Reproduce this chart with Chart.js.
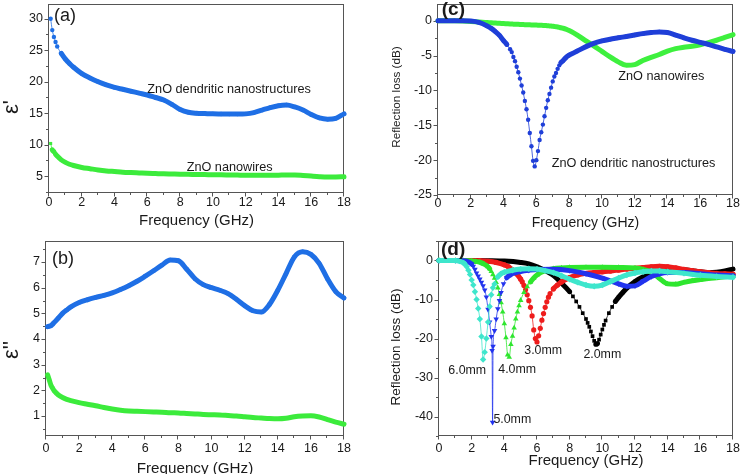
<!DOCTYPE html>
<html><head><meta charset="utf-8">
<script src="https://cdn.jsdelivr.net/npm/chart.js@4.4.1/dist/chart.umd.min.js"></script>
<style>
html,body{margin:0;padding:0;background:#fff;}
#wrap{position:relative;width:740px;height:474px;overflow:hidden;background:#fff;}
canvas{position:absolute;}
</style></head><body>
<div id="wrap">
<canvas id="ca" width="370" height="237" style="left:0;top:0"></canvas>
<canvas id="cb" width="370" height="237" style="left:0;top:237px"></canvas>
<canvas id="cc" width="370" height="237" style="left:370px;top:0"></canvas>
<canvas id="cd" width="370" height="237" style="left:370px;top:237px"></canvas>
</div>
<script>
// ---------- tick labels ----------
const xTicks = [0, 2, 4, 6, 8, 10, 12, 14, 16, 18];
const yTicksA = [5, 10, 15, 20, 25, 30];
const yTicksB = [1, 2, 3, 4, 5, 6, 7];
const yTicksC = [-25, -20, -15, -10, -5, 0];
const yTicksD = [-40, -30, -20, -10, 0];

// ---------- panel (a) and (b): permittivity ----------
const freqAB = [0.1, 0.2, 0.3, 0.4, 0.5, 0.75, 1, 1.25, 1.5, 2, 2.5, 3, 3.5, 4, 4.5, 5, 5.5, 6, 6.5, 7, 7.5, 8, 8.5, 9, 9.5, 10, 10.5, 11, 11.5, 12, 12.5, 13, 13.5, 14, 14.5, 15, 15.5, 16, 16.5, 17, 17.5, 18];
const epsRealDendritic = [30.0, 28.2, 27.1, 26.3, 25.6, 24.5, 23.6, 22.9, 22.3, 21.3, 20.6, 20.0, 19.5, 19.1, 18.8, 18.5, 18.2, 17.9, 17.5, 17.1, 16.4, 15.6, 15.15, 15.0, 14.95, 14.9, 14.88, 14.86, 14.86, 14.9, 15.1, 15.5, 15.9, 16.2, 16.3, 16.0, 15.5, 14.8, 14.25, 14.05, 14.2, 14.9];
const epsRealWires = [10.2, 9.2, 8.9, 8.5, 8.2, 7.6, 7.2, 6.9, 6.7, 6.4, 6.2, 6.0, 5.85, 5.75, 5.65, 5.58, 5.52, 5.46, 5.42, 5.38, 5.35, 5.32, 5.3, 5.28, 5.26, 5.25, 5.22, 5.2, 5.18, 5.16, 5.15, 5.14, 5.15, 5.17, 5.2, 5.2, 5.12, 5.02, 4.93, 4.88, 4.88, 4.92];
const epsImagDendritic = [4.48, 4.5, 4.52, 4.58, 4.65, 4.82, 5.0, 5.13, 5.25, 5.42, 5.53, 5.62, 5.7, 5.8, 5.93, 6.08, 6.25, 6.45, 6.66, 6.88, 7.08, 7.05, 6.72, 6.35, 6.12, 6.0, 5.9, 5.77, 5.55, 5.3, 5.1, 5.05, 5.35, 5.9, 6.55, 7.2, 7.4, 7.3, 6.95, 6.35, 5.85, 5.6];
const epsImagWires = [2.6, 2.4, 2.2, 2.08, 1.98, 1.82, 1.72, 1.65, 1.6, 1.52, 1.46, 1.4, 1.33, 1.27, 1.22, 1.19, 1.18, 1.17, 1.16, 1.15, 1.13, 1.12, 1.1, 1.08, 1.06, 1.05, 1.04, 1.02, 1.0, 0.97, 0.94, 0.92, 0.9, 0.89, 0.91, 0.97, 1.0, 1.01, 0.96, 0.86, 0.76, 0.68];

// ---------- panel (c): reflection loss, two samples ----------
const freqC = [0, 0.5, 1, 1.5, 2, 2.5, 3, 3.25, 3.5, 3.75, 4, 4.2, 4.4, 4.5, 4.6, 4.7, 4.8, 4.9, 5.0, 5.1, 5.2, 5.3, 5.4, 5.5, 5.6, 5.7, 5.8, 5.9, 6.0, 6.1, 6.2, 6.3, 6.4, 6.5, 6.6, 6.7, 6.8, 6.9, 7.0, 7.1, 7.2, 7.3, 7.4, 7.5, 7.6, 7.8, 8.0, 8.25, 8.5, 9, 9.5, 10, 10.5, 11, 11.5, 12, 12.5, 13, 13.5, 14, 14.5, 15, 15.5, 16, 16.5, 17, 17.5, 18];
const rlDendritic = [0, 0, 0, 0, -0.05, -0.25, -0.75, -1.1, -1.55, -2.1, -2.85, -3.4, -4.1, -4.5, -5.2, -5.8, -6.6, -7.4, -8.3, -9.3, -10.3, -11.5, -12.7, -14.2, -16.1, -18.0, -20.1, -20.9, -20.0, -18.7, -17.1, -16.0, -14.9, -13.7, -12.5, -11.4, -10.5, -9.6, -8.7, -8.0, -7.5, -6.9, -6.4, -6.0, -5.8, -5.3, -4.95, -4.65, -4.35, -3.75, -3.25, -2.9, -2.65, -2.45, -2.25, -2.05, -1.85, -1.7, -1.6, -1.7, -2.05, -2.45, -2.8, -3.1, -3.4, -3.75, -4.1, -4.4];
const rlWires = [0, 0, -0.02, -0.05, -0.1, -0.18, -0.25, -0.3, -0.33, -0.37, -0.4, -0.43, -0.46, -0.47, -0.49, -0.5, -0.51, -0.52, -0.53, -0.54, -0.55, -0.56, -0.57, -0.58, -0.59, -0.6, -0.61, -0.62, -0.63, -0.64, -0.65, -0.66, -0.67, -0.68, -0.7, -0.72, -0.74, -0.76, -0.79, -0.82, -0.86, -0.9, -0.95, -1.0, -1.06, -1.2, -1.4, -1.7, -2.05, -2.85, -3.6, -4.4, -5.2, -5.9, -6.4, -6.3, -5.7, -5.25, -4.85, -4.35, -4.0, -3.8, -3.65, -3.45, -3.15, -2.8, -2.4, -2.0];

// ---------- panel (d): reflection loss vs thickness ----------
const f2mm = [0, 1, 2, 3, 4, 5, 5.5, 6, 6.5, 7, 7.5, 8, 8.2, 8.4, 8.6, 8.8, 9.0, 9.1, 9.2, 9.3, 9.4, 9.5, 9.6, 9.7, 9.8, 9.9, 10.0, 10.1, 10.2, 10.4, 10.6, 10.8, 11, 11.25, 11.5, 12, 12.5, 13, 13.5, 14, 14.5, 15, 15.5, 16, 16.5, 17, 17.5, 18];
const rl2mm = [0, 0, 0, -0.05, -0.15, -0.5, -0.85, -1.6, -2.6, -3.8, -5.8, -8.0, -9.2, -10.5, -11.9, -13.5, -15.0, -16.0, -17.0, -18.2, -19.4, -20.6, -21.5, -21.3, -20.3, -19.0, -17.7, -16.5, -15.4, -13.5, -11.9, -10.5, -9.4, -8.2, -7.1, -5.4, -4.2, -3.4, -2.75, -2.4, -2.3, -2.35, -2.6, -2.9, -3.1, -3.0, -2.7, -2.2];
const f3mm = [0, 1, 2, 2.5, 3, 3.5, 4, 4.25, 4.5, 4.75, 5, 5.1, 5.2, 5.3, 5.4, 5.5, 5.6, 5.7, 5.8, 5.9, 6.0, 6.1, 6.2, 6.3, 6.4, 6.5, 6.6, 6.7, 6.8, 7.0, 7.25, 7.5, 8, 8.5, 9, 9.5, 10, 10.5, 11, 11.5, 12, 12.5, 13, 13.5, 14, 14.5, 15, 15.5, 16, 16.5, 17, 17.5, 18];
const rl3mm = [0, 0, 0, -0.05, -0.2, -0.5, -1.1, -1.6, -2.4, -3.4, -4.8, -5.5, -6.4, -7.5, -8.8, -10.3, -12.0, -14.2, -17.8, -20.0, -20.9, -19.3, -17.4, -15.3, -13.6, -12.0, -10.6, -9.4, -8.5, -7.3, -6.3, -5.5, -4.4, -3.7, -3.3, -3.1, -2.9, -2.7, -2.45, -2.2, -2.0, -1.8, -1.6, -1.5, -1.6, -1.9, -2.3, -2.6, -2.9, -3.1, -3.3, -3.4, -3.5];
const f4mm = [0, 1, 1.5, 2, 2.25, 2.5, 2.75, 3, 3.1, 3.2, 3.3, 3.4, 3.5, 3.6, 3.7, 3.8, 3.9, 4.0, 4.1, 4.2, 4.3, 4.4, 4.5, 4.6, 4.7, 4.8, 4.9, 5.0, 5.2, 5.4, 5.6, 5.8, 6.0, 6.5, 7, 7.5, 8, 9, 10, 11, 12, 12.5, 13, 13.5, 14, 14.5, 15, 15.5, 16, 16.5, 17, 17.5, 18];
const rl4mm = [0, 0, -0.02, -0.1, -0.25, -0.45, -0.9, -1.6, -2.1, -2.8, -3.6, -4.5, -5.6, -7.0, -8.7, -10.8, -13.2, -16.2, -19.8, -24.2, -24.8, -21.5, -19.4, -17.3, -15.0, -13.2, -11.6, -10.2, -8.2, -6.7, -5.5, -4.5, -3.7, -2.6, -2.1, -1.9, -1.8, -1.75, -1.75, -1.8, -1.95, -2.3, -3.0, -4.6, -6.0, -6.1, -5.6, -5.2, -4.9, -4.6, -4.4, -4.2, -4.0];
const f5mm = [0, 1, 1.5, 1.75, 2, 2.1, 2.2, 2.3, 2.4, 2.5, 2.6, 2.7, 2.8, 2.9, 3.0, 3.1, 3.2, 3.25, 3.28, 3.31, 3.4, 3.5, 3.6, 3.7, 3.8, 3.95, 4.15, 4.4, 4.7, 5, 5.5, 6, 7, 8, 9, 10, 10.5, 11, 11.5, 12, 12.5, 13, 13.5, 14, 15, 16, 17, 18];
const rl5mm = [0, 0, -0.05, -0.25, -0.9, -1.5, -2.3, -3.2, -4.0, -4.8, -5.6, -6.5, -7.6, -9.4, -12.5, -15.8, -19.5, -23.1, -41.5, -22.0, -18.0, -15.0, -12.4, -10.3, -8.2, -6.0, -4.4, -3.6, -3.1, -2.8, -2.5, -2.3, -2.25, -2.6, -3.4, -4.5, -5.2, -6.0, -6.6, -6.5, -5.3, -4.1, -3.4, -3.1, -3.1, -3.4, -3.7, -3.9];
const f6mm = [0, 1, 1.25, 1.5, 1.6, 1.7, 1.8, 1.9, 2.0, 2.1, 2.2, 2.3, 2.4, 2.5, 2.6, 2.7, 2.8, 2.9, 3.0, 3.1, 3.2, 3.3, 3.4, 3.6, 3.8, 4.0, 4.5, 5, 5.5, 6, 6.5, 7, 7.5, 8, 8.5, 9, 9.5, 10, 10.5, 11, 11.5, 12, 12.5, 13, 13.5, 14, 15, 16, 17, 18];
const rl6mm = [0, -0.02, -0.15, -0.6, -1.0, -1.6, -2.5, -3.6, -5.0, -6.3, -8.0, -10.0, -12.3, -15.0, -19.5, -25.4, -23.5, -20.0, -15.8, -11.8, -8.8, -7.0, -6.0, -4.2, -3.4, -3.0, -2.5, -2.2, -2.1, -2.2, -2.6, -3.1, -3.9, -4.8, -5.6, -6.3, -6.6, -6.3, -5.4, -4.5, -3.7, -3.2, -2.9, -2.7, -2.7, -2.9, -3.3, -3.8, -4.1, -4.3];

// ---------- helpers ----------
const FONT = "'Liberation Sans', Arial, sans-serif";
function seg(thick, steep) {
  return { borderWidth: c => (Math.abs(c.p1.y - c.p0.y) > steep * Math.abs(c.p1.x - c.p0.x) ? 0.8 : thick) };
}
function ds(xs, ys, color, shape, r, thick, order, rot, steep) {
  return {
    data: xs.map((x, i) => ({ x: x, y: ys[i] })),
    showLine: true, borderColor: color, backgroundColor: color,
    pointBackgroundColor: color, pointBorderColor: color, pointBorderWidth: 0,
    pointRadius: r, pointStyle: shape, pointRotation: rot || 0,
    borderWidth: thick, segment: seg(thick, steep || 1.4), cubicInterpolationMode: 'monotone',
    borderCapStyle: 'round', borderJoinStyle: 'round', clip: false, order: order
  };
}
function minorOf(ticks, min, max) {
  const out = [];
  const step = ticks[1] - ticks[0];
  const cand = [ticks[0] - step / 2];
  for (let i = 0; i < ticks.length; i++) cand.push(ticks[i] + step / 2);
  cand.forEach(v => { if (v >= min - 1e-9 && v <= max + 1e-9) out.push(v); });
  return out;
}

const deco = {
  id: 'deco',
  beforeDatasetsDraw(chart, args, o) {
    const { ctx, chartArea: a } = chart;
    const sx = chart.scales.x, sy = chart.scales.y;
    ctx.save();
    ctx.strokeStyle = '#555';
    ctx.lineWidth = 1;
    const L = Math.round(a.left) - 0.5, R = Math.round(a.right) - 0.5;
    const T = Math.round(a.top) + 0.5, B = Math.round(a.bottom) - 0.5;
    ctx.strokeRect(L, T, R - L, B - T);
    ctx.beginPath();
    const tx = (v, len) => { const p = Math.round(sx.getPixelForValue(v)) - 0.5; ctx.moveTo(p, B); ctx.lineTo(p, B + len); };
    const ty = (v, len) => { const p = Math.round(sy.getPixelForValue(v)) + 0.5; ctx.moveTo(L, p); ctx.lineTo(L - len, p); };
    xTicks.forEach(v => tx(v, 4));
    minorOf(xTicks, 0, 18).forEach(v => tx(v, 2.5));
    o.yTicks.forEach(v => ty(v, 4));
    minorOf(o.yTicks, sy.min, sy.max).forEach(v => ty(v, 2.5));
    ctx.stroke();
    ctx.restore();
  },
  afterDatasetsDraw(chart, args, o) {
    const { ctx, chartArea: a } = chart;
    const sx = chart.scales.x, sy = chart.scales.y;
    ctx.save();
    ctx.fillStyle = '#1a1a1a';
    ctx.textBaseline = 'middle';
    (o.labels || []).forEach(l => {
      ctx.font = l.font;
      ctx.textAlign = 'left';
      ctx.fillText(l.t, sx.getPixelForValue(l.x), sy.getPixelForValue(l.y));
    });
    ctx.font = o.xTitleFont;
    ctx.textAlign = 'center';
    ctx.fillText('Frequency (GHz)', (a.left + a.right) / 2, o.xTitleY);
    ctx.translate(o.yTitleX, o.yTitleY);
    ctx.rotate(-Math.PI / 2);
    ctx.font = o.yTitleFont;
    ctx.fillText(o.yTitle, 0, 0);
    ctx.restore();
  }
};

function makeChart(id, c) {
  const tickFont = { family: FONT, size: 12.5 };
  return new Chart(document.getElementById(id), {
    type: 'scatter',
    data: { datasets: c.datasets },
    options: {
      responsive: false, animation: false, events: [],
      layout: { padding: c.pad },
      plugins: { legend: { display: false }, tooltip: { enabled: false }, deco: c.deco },
      scales: {
        x: {
          type: 'linear', min: 0, max: 18,
          grid: { display: false, drawTicks: false }, border: { display: false },
          afterBuildTicks: s => { s.ticks = xTicks.map(v => ({ value: v })); },
          afterFit: s => { s.height = c.xH; s.paddingLeft = 0; s.paddingRight = 0; s.paddingTop = 0; s.paddingBottom = 0; },
          ticks: { padding: c.xPad, font: tickFont, color: '#1a1a1a', maxRotation: 0, autoSkip: false }
        },
        y: {
          type: 'linear', min: c.yMin, max: c.yMax,
          grid: { display: false, drawTicks: false }, border: { display: false },
          afterBuildTicks: s => { s.ticks = c.deco.yTicks.map(v => ({ value: v })); },
          afterFit: s => { s.width = c.yW; s.paddingTop = 0; s.paddingBottom = 0; s.paddingLeft = 0; s.paddingRight = 0; },
          ticks: { padding: 6, font: tickFont, color: '#1a1a1a', autoSkip: false }
        }
      }
    },
    plugins: [deco]
  });
}

const annFont = '12.7px ' + FONT;
const blueAB = '#1f6fe5', greenAB = '#3ceb3c';
const blueC = '#1f3fd8', greenC = '#3ef03e';

makeChart('ca', {
  pad: { left: 0, right: 26, top: 1, bottom: 0 }, yW: 49, xH: 44, xPad: 2,
  yMin: 2.34, yMax: 32.34,
  datasets: [
    ds(freqAB, epsRealDendritic, blueAB, 'circle', 2.2, 5, 1),
    ds(freqAB, epsRealWires, greenAB, 'rect', 2.2, 5, 2)
  ],
  deco: {
    yTicks: yTicksA,
    labels: [
      { t: '(a)', x: 0.3, y: 30.4, font: '18px ' + FONT },
      { t: 'ZnO dendritic nanostructures', x: 6.0, y: 18.8, font: annFont },
      { t: 'ZnO nanowires', x: 8.4, y: 6.45, font: annFont }
    ],
    xTitleFont: '15px ' + FONT, xTitleY: 221,
    yTitle: "\u03b5'", yTitleFont: '22px ' + FONT, yTitleX: 12, yTitleY: 107
  }
});

makeChart('cb', {
  pad: { left: 0, right: 26, top: 4, bottom: 0 }, yW: 46, xH: 38, xPad: 5,
  yMin: 0.22, yMax: 7.82,
  datasets: [
    ds(freqAB, epsImagDendritic, blueAB, 'circle', 2.2, 5, 1, 0, 6),
    ds(freqAB, epsImagWires, greenAB, 'rect', 2.2, 5, 2, 0, 6)
  ],
  deco: {
    yTicks: yTicksB,
    labels: [
      { t: '(b)', x: 0.36, y: 7.13, font: '18px ' + FONT }
    ],
    xTitleFont: '15.2px ' + FONT, xTitleY: 231.5,
    yTitle: "\u03b5''", yTitleFont: '22px ' + FONT, yTitleX: 12, yTitleY: 113
  }
});

makeChart('cc', {
  pad: { left: 0, right: 7, top: 1, bottom: 0 }, yW: 68, xH: 42, xPad: 1,
  yMin: -25, yMax: 2.4,
  datasets: [
    ds(freqC, rlDendritic, blueC, 'circle', 2.2, 5, 1),
    ds(freqC, rlWires, greenC, 'rect', 2.2, 5, 2)
  ],
  deco: {
    yTicks: yTicksC,
    labels: [
      { t: '(c)', x: 0.23, y: 1.55, font: 'bold 19px ' + FONT },
      { t: 'ZnO nanowires', x: 11.0, y: -8.06, font: annFont },
      { t: 'ZnO dendritic nanostructures', x: 6.94, y: -20.46, font: annFont }
    ],
    xTitleFont: '14px ' + FONT, xTitleY: 222.7,
    yTitle: 'Reflection loss (dB)', yTitleFont: '11.7px ' + FONT, yTitleX: 26.7, yTitleY: 97
  }
});

makeChart('cd', {
  pad: { left: 0, right: 7, top: 3, bottom: 0 }, yW: 69, xH: 38, xPad: 5,
  yMin: -45, yMax: 5,
  datasets: [
    ds(f2mm, rl2mm, '#000000', 'rect', 2.6, 5, 5),
    ds(f3mm, rl3mm, '#ee1c1c', 'circle', 2.6, 5, 4),
    ds(f4mm, rl4mm, '#2ee62e', 'triangle', 3.2, 5, 3),
    ds(f5mm, rl5mm, '#2233ee', 'triangle', 3.2, 5, 2, 180),
    ds(f6mm, rl6mm, '#3ee6cc', 'rectRot', 3.2, 5, 1)
  ],
  deco: {
    yTicks: yTicksD,
    labels: [
      { t: '(d)', x: 0.12, y: 2.73, font: 'bold 19px ' + FONT },
      { t: '3.0mm', x: 5.22, y: -23.1, font: '12.4px ' + FONT },
      { t: '2.0mm', x: 8.84, y: -24.0, font: '12.4px ' + FONT },
      { t: '6.0mm', x: 0.57, y: -28.2, font: '12.4px ' + FONT },
      { t: '4.0mm', x: 3.63, y: -28.0, font: '12.4px ' + FONT },
      { t: '5.0mm', x: 3.33, y: -40.8, font: '12.4px ' + FONT }
    ],
    xTitleFont: '15px ' + FONT, xTitleY: 223.5,
    yTitle: 'Reflection loss (dB)', yTitleFont: '13.5px ' + FONT, yTitleX: 26.7, yTitleY: 110
  }
});
</script>
</body></html>
